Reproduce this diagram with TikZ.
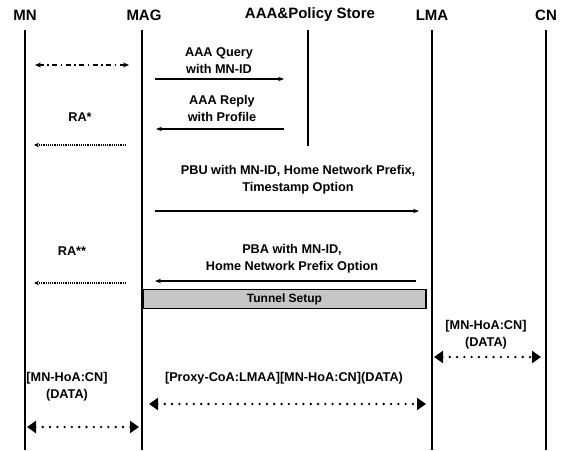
\documentclass[tikz,border=0pt]{standalone}
\usepackage{fontspec}
\setmainfont{Liberation Sans}
\usetikzlibrary{arrows.meta}
\tikzstyle{actor} = [font=\bfseries\fontsize{15}{15}\selectfont, inner sep=0pt]
\tikzstyle{lbl} = [font=\bfseries\fontsize{12.7}{17}\selectfont, align=center, inner sep=0pt]
\tikzstyle{lifeline} = [line width=2.2pt]
\tikzstyle{msg} = [line width=1.4pt, -{Stealth[length=6pt,width=4.5pt]}]
\tikzstyle{raarrow} = [line width=1.1pt, dash pattern=on 1.2pt off 1pt, -{Stealth[length=5pt,width=4.5pt]}]
\tikzstyle{dashdot} = [line width=1.4pt, dash pattern=on 5pt off 3.5pt on 1.5pt off 3.5pt, {Stealth[length=6pt,width=5pt]}-{Stealth[length=6pt,width=5pt]}]
\tikzstyle{datalink} = [line width=2.6pt, line cap=round, dash pattern=on 0pt off 7.3pt, {Triangle[length=9pt,width=12pt,line cap=butt]}-{Triangle[length=9pt,width=12pt,line cap=butt]}]
\tikzstyle{tunnel} = [draw, line width=1.3pt, fill=gray!45, minimum width=283pt, minimum height=19pt, font=\bfseries\fontsize{12}{12}\selectfont]

\begin{document}
\begin{tikzpicture}[x=1pt, y=-1pt]
\useasboundingbox (0,0) rectangle (564,450);
% entities
\node (mn) [actor] at (25,15) {MN};
\node (mag) [actor] at (144,15) {MAG};
\node (aaa) [actor] at (310,15) {AAA\&Policy Store};
\node (lma) [actor] at (432,15) {LMA};
\node (cn) [actor] at (546,15) {CN};
% lifelines
\coordinate (mnend) at (25,450);
\coordinate (magend) at (142,450);
\coordinate (aaaend) at (308,146);
\coordinate (lmaend) at (432,450);
\coordinate (cnend) at (546,450);
\draw [lifeline] (25,30) -- (mnend);
\draw [lifeline] (142,30) -- (magend);
\draw [lifeline] (308,30) -- (aaaend);
\draw [lifeline] (432,30) -- (lmaend);
\draw [lifeline] (546,30) -- (cnend);
% attach
\coordinate (att1) at (35,65);
\coordinate (att2) at (129,65);
\draw [dashdot] (att1) -- (att2);
% AAA query and reply
\node (query) [lbl] at (219,61) {AAA Query\\with MN-ID};
\coordinate (qs) at (155,79);
\coordinate (qe) at (284,79);
\draw [msg] (qs) -- (qe);
\node (reply) [lbl] at (222,108) {AAA Reply\\with Profile};
\coordinate (rs) at (284,129);
\coordinate (re) at (156,129);
\draw [msg] (rs) -- (re);
\node (ra1) [lbl] at (80,117) {RA*};
\coordinate (ra1s) at (126,145);
\coordinate (ra1e) at (34,145);
\draw [raarrow] (ra1s) -- (ra1e);
% PBU and PBA
\node (pbu) [lbl] at (298,180) {PBU with MN-ID, Home Network Prefix,\\Timestamp Option};
\coordinate (pbus) at (155,211);
\coordinate (pbue) at (419,211);
\draw [msg] (pbus) -- (pbue);
\node (ra2) [lbl] at (72,251) {RA**};
\node (pba) [lbl] at (292,259) {PBA with MN-ID,\\Home Network Prefix Option};
\coordinate (pbas) at (416,281);
\coordinate (pbae) at (155,281);
\draw [msg] (pbas) -- (pbae);
\coordinate (ra2s) at (126,283);
\coordinate (ra2e) at (34,283);
\draw [raarrow] (ra2s) -- (ra2e);
% tunnel
\node (tun) [tunnel] at (284.5,299) {Tunnel Setup};
% data
\node (cndata) [lbl] at (486,335) {[MN-HoA:CN]\\(DATA)};
\coordinate (d1s) at (434,357);
\coordinate (d1e) at (541,357);
\draw [datalink] (d1s) -- (d1e);
\node (tundata) [lbl] at (284,378) {[Proxy-CoA:LMAA][MN-HoA:CN](DATA)};
\coordinate (d2s) at (149,404);
\coordinate (d2e) at (426,404);
\draw [datalink] (d2s) -- (d2e);
\node (mndata) [lbl] at (67,387) {[MN-HoA:CN]\\(DATA)};
\coordinate (d3s) at (27,427);
\coordinate (d3e) at (139,427);
\draw [datalink] (d3s) -- (d3e);
\end{tikzpicture}
\end{document}
